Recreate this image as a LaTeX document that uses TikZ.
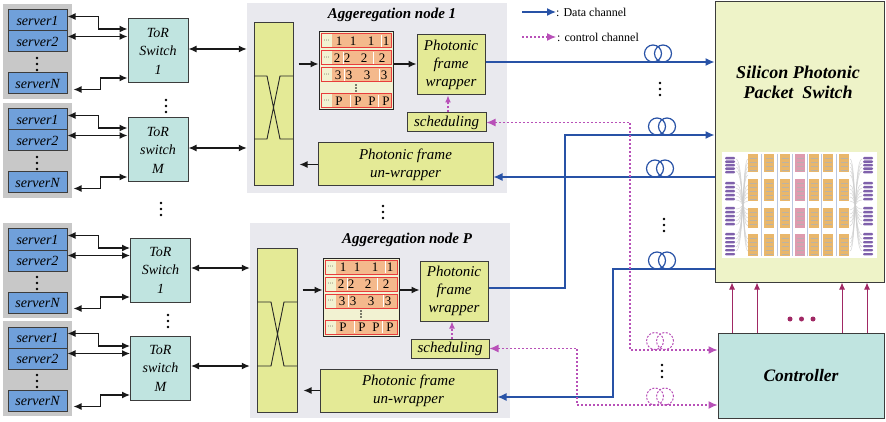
\documentclass[tikz,border=0pt]{standalone}
\usepackage{fontspec}
\setmainfont{Liberation Serif}
\usetikzlibrary{arrows.meta,calc}
\definecolor{srvblue}{RGB}{112,160,218}
\definecolor{grpgray}{RGB}{200,200,200}
\definecolor{torteal}{RGB}{192,228,224}
\definecolor{boxyel}{RGB}{228,234,150}
\definecolor{agggray}{RGB}{233,233,238}
\definecolor{spsfill}{RGB}{238,243,200}
\definecolor{datablue}{RGB}{40,82,166}
\definecolor{ctrlmag}{RGB}{184,80,184}
\definecolor{upmag}{RGB}{160,40,100}
\definecolor{qorange}{RGB}{244,185,140}
\definecolor{qred}{RGB}{232,60,60}
\definecolor{qcream}{RGB}{242,242,210}
\definecolor{edge}{RGB}{60,60,60}
\definecolor{chipor}{RGB}{228,165,70}
\definecolor{chippk}{RGB}{214,130,155}
\definecolor{chippu}{RGB}{96,58,150}
\newcommand\fsz[2]{\fontsize{#1}{#2}\selectfont}
% three small dots stacked vertically
\newcommand\vdts[2]{\fill (#1,#2) circle (1.3pt) (#1,#2+6) circle (1.3pt) (#1,#2+12) circle (1.3pt);}
% fibre coil sitting on a line
\newcommand\coil[3]{\draw[#3] (#1-5,#2) circle (8.5pt) (#1+5,#2) circle (8.5pt);}
% queue rows inside a queue block, relative to its north-west corner
\newcommand\qrows[3]{%
  \begin{scope}[shift={(#1,#2)}]
    \foreach \ya/\yb/\lab/\na/\nb/\nc/\nd/\da/\db in
      {2/16/1/20/34/52/67/62/62, 19/33/2/18/28/45/63/24/54, 36/50/3/19/30/48/65/25/60, 62/76/P/20/39/53/67/31/59}{
      \fill[qcream] (2,\ya) rectangle (13,\yb);
      \fill[qorange] (13,\ya) rectangle (#3-2,\yb);
      \draw[white, line width=1pt] (\da,\ya+1) -- (\da,\yb-1) (\db,\ya+1) -- (\db,\yb-1);
      \draw[qred, line width=1pt] (2,\ya) rectangle (#3-2,\yb);
      \node[font=\fsz{6}{6}] at (7.5,\ya*0.5+\yb*0.5) {···};
      \foreach \xx in {\na,\nb,\nc,\nd}
        \node[font=\fsz{13}{13}, inner sep=0pt] at (\xx,\ya*0.5+\yb*0.5+0.5) {\lab};
    }
    \fill (#3*0.5,53) circle (0.8pt) (#3*0.5,56) circle (0.8pt) (#3*0.5,59) circle (0.8pt);
  \end{scope}}

\begin{document}
\begin{tikzpicture}[x=1pt,y=-1pt,
  box/.style={draw=edge, line width=1pt, inner sep=0pt, align=center},
  srv/.style={box, fill=srvblue, minimum width=59pt, minimum height=21pt, font=\fsz{14}{16}\itshape},
  grp/.style={fill=grpgray, inner sep=0pt, minimum width=69pt, minimum height=95pt},
  tor/.style={box, fill=torteal, minimum width=60pt, minimum height=64pt, font=\fsz{14}{18.5}\itshape},
  ybox/.style={box, fill=boxyel, font=\fsz{15}{18}\itshape},
  aggbg/.style={fill=agggray, inner sep=0pt},
  qbox/.style={draw=black!85, line width=1pt, fill=qcream, inner sep=0pt},
  ttl/.style={font=\fsz{15}{17}\bfseries\itshape},
  arr/.style={black!90, line width=1.3pt, -{Latex[length=8pt,width=7pt]}},
  dar/.style={black!90, line width=1.3pt, {Latex[length=8pt,width=7pt]}-{Latex[length=8pt,width=7pt]}},
  data/.style={datablue, line width=1.3pt, -{Latex[length=9pt,width=8pt]}},
  ctrl/.style={ctrlmag, line width=1.2pt, dash pattern=on 2pt off 2pt, {Latex[length=9pt,width=8pt]}-{Latex[length=9pt,width=8pt]}},
  ctrlone/.style={ctrlmag, line width=1.2pt, dash pattern=on 2pt off 2pt, -{Latex[length=9pt,width=8pt]}},
  ctrlup/.style={ctrlmag, line width=1.1pt, dash pattern=on 2pt off 2pt, -{Latex[length=7pt,width=6pt]}},
  up/.style={upmag, line width=1pt, -{Latex[length=7pt,width=6pt]}}]
\useasboundingbox (0,0) rectangle (886,422);

% ---------- aggregation nodes ----------
\node[aggbg, minimum width=260pt, minimum height=190pt] (a1) at (377,98) {};
\node[aggbg, minimum width=260pt, minimum height=195pt] (aP) at (380,320.5) {};
\node[ttl] (a1t) at (392,15) {Aggeregation node 1};
\node[ttl] (aPt) at (407,240) {Aggeregation node P};

% crossbars
\node[box, fill=boxyel, minimum width=39pt, minimum height=163pt] (cb1) at (273.5,104.5) {};
\node[box, fill=boxyel, minimum width=40pt, minimum height=164pt] (cbP) at (277,330) {};
\draw[black!85, line width=0.9pt] (254,76) -- (267,76) -- (280,139) -- (293,139)
  (293,76) -- (280,76) -- (267,139) -- (254,139);
\draw[black!85, line width=0.9pt] (257,302) -- (271,302) -- (284,366) -- (297,366)
  (297,302) -- (284,302) -- (271,366) -- (257,366);

% queues
\node[qbox, minimum width=74pt, minimum height=78pt] (q1) at (356,71) {};
\qrows{319}{32}{74}
\node[qbox, minimum width=76pt, minimum height=78pt] (qP) at (361,297) {};
\qrows{323}{258}{76}

% wrappers, schedulers, un-wrappers
\node[ybox, minimum width=68pt, minimum height=60pt] (w1) at (451,65) {Photonic\\frame\\wrapper};
\node[ybox, minimum width=68pt, minimum height=60pt] (wP) at (454,291) {Photonic\\frame\\wrapper};
\node[ybox, minimum width=79pt, minimum height=19pt] (sc1) at (446.5,122.5) {scheduling};
\node[ybox, minimum width=78pt, minimum height=19pt] (scP) at (450,348.5) {scheduling};
\node[ybox, minimum width=175pt, minimum height=43pt] (u1) at (405.5,164.5) {Photonic frame\\un-wrapper};
\node[ybox, minimum width=177pt, minimum height=43pt] (uP) at (408.5,390.5) {Photonic frame\\un-wrapper};

% internal connections
\draw[arr] ($(cb1.east |- 0,64)+(5,0)$) -- (q1.west |- 0,64);
\draw[arr] (q1.east |- 0,64) -- (w1.west |- 0,64);
\draw[arr] (u1.west) -- ($(cb1.east |- u1.west)+(6,0)$);
\draw[ctrlup] (sc1.north -| 448,0) -- (w1.south -| 448,0);
\draw[arr] ($(cbP.east |- 0,290)+(5,0)$) -- (qP.west |- 0,290);
\draw[arr] (qP.east |- 0,290) -- (wP.west |- 0,290);
\draw[arr] (uP.west) -- ($(cbP.east |- uP.west)+(6,0)$);
\draw[ctrlup] (scP.north -| 452,0) -- (wP.south -| 452,0);

% ---------- server racks and ToR switches ----------
\foreach \g/\gy/\tx/\lab/\sw/\ag in {1/4/158/1/Switch/a1, 2/103/158/M/switch/a1, 3/223/160.5/1/Switch/aP, 4/321/160.5/M/switch/aP}{
  \node[grp] (grp\g) at (37,\gy+47.5) {};
  \node[srv] (s\g a) at (37.5,\gy+16.5) {server1};
  \node[srv] (s\g b) at (37.5,\gy+37.5) {server2};
  \node[srv] (s\g n) at (37.5,\gy+79.5) {serverN};
  \vdts{37}{\gy+54}
  \node[tor] (t\g) at (\tx,\gy+47) {ToR\\\sw\\\lab};
  \draw[dar] ([yshift=4pt]s\g a.east) -- ++(31,0) |- ([yshift=22pt]t\g.west);
  \coordinate (p\g b) at ([yshift=5pt]s\g b.east);
  \draw[dar] (p\g b) -- (p\g b -| t\g.west);
  \coordinate (p\g n) at ([xshift=6pt,yshift=-6pt]s\g n.east);
  \draw[dar] (p\g n) -- ++(27,0) |- ([yshift=-27pt]t\g.west);
  \coordinate (o\g) at ([yshift=2pt]t\g.east);
  \draw[dar] (o\g) -- (o\g -| \ag.west);
}
\vdts{166}{100}
\vdts{168}{315}
\vdts{161}{203}
\vdts{383}{206}

% ---------- silicon photonic packet switch ----------
\node[box, fill=spsfill, minimum width=169pt, minimum height=280pt] (sps) at (799.5,142) {};
\node[font=\fsz{18}{20}\bfseries\itshape, align=center] (spst) at (798,82) {Silicon Photonic\\Packet\ \ Switch};
% chip layout sketch
\fill[white] (722,152) rectangle (877,258);
\begin{scope}[opacity=0.8]
  % fan-out waveguides between the port arrays and the switch matrix
  \foreach \yy in {159,163,167,171,184,188,192,196,200,209,213,217,221,225,235,239,243,247,251}{
    \draw[gray!40, line width=0.5pt] (736,\yy) .. controls (744,\yy) and (742,410-\yy) .. (748,410-\yy);
    \draw[gray!40, line width=0.5pt] (862,\yy) .. controls (854,\yy) and (856,410-\yy) .. (850,410-\yy);
  }
  \foreach \yy in {157,160.5,164,167.5,171, 182,186,190,194,198, 207,211,215,219,223, 233,237,241,245,249,253}{
    \fill[chippu, rounded corners=1pt] (725,\yy) rectangle (735,\yy+2.4);
    \fill[chippu, rounded corners=1pt] (863,\yy) rectangle (873,\yy+2.4);
  }
  \foreach \cx in {761,777,792,807,821,836}
    \draw[datablue!40, line width=0.8pt] (\cx,154) -- (\cx,256);
  \foreach \cx in {753,769,785,800,814,828,844}{
    \foreach \ya/\yb in {154/172, 179/201, 208/228, 234/256}{
      \ifnum\cx=800
        \fill[chippk] (\cx-5,\ya) rectangle (\cx+5,\yb);
      \else
        \fill[chipor] (\cx-5,\ya) rectangle (\cx+5,\yb);
      \fi
      \foreach \ss in {4,8,...,20}{
        \ifdim\ss pt<\numexpr\yb-\ya\relax pt
          \draw[black!30, line width=0.5pt] (\cx-3.5,\ya+\ss) -- (\cx+3.5,\ya+\ss);
        \fi
      }
    }
  }
\end{scope}

% ---------- controller ----------
\node[box, fill=torteal, minimum width=166pt, minimum height=85pt, font=\fsz{17.5}{20}\bfseries\itshape] (ctl) at (801,375.5) {Controller};
\foreach \ux in {732,757,842,867}
  \draw[up] (ctl.north -| \ux,0) -- (sps.south -| \ux,0);
\fill[upmag] (790,319) circle (2.5pt) (801.5,319) circle (2.5pt) (813,319) circle (2.5pt);

% ---------- data channels ----------
\draw[data] (w1.east |- 0,62) -- (sps.west |- 0,62);
\coil{658}{53.5}{datablue, line width=1.2pt}
\vdts{660}{83}
\coordinate (bd2) at (565,135);
\draw[data] (wP.east |- 0,288) -| (bd2) -- (sps.west |- bd2);
\coil{662}{126.5}{datablue, line width=1.2pt}
\coordinate (in3) at (sps.west |- 0,177);
\draw[data] (in3) -- (u1.east |- in3);
\coil{660}{168.5}{datablue, line width=1.2pt}
\coordinate (in4) at (sps.west |- 0,269);
\coordinate (bd4) at (613,269);
\draw[data] (in4) -- (bd4) |- (uP.east |- 0,397);
\coil{662}{260.5}{datablue, line width=1.2pt}
\vdts{664}{219}

% ---------- control channels ----------
\coordinate (bc1) at (630,350);
\draw[ctrl] (sc1.east) -| (bc1) -- (ctl.west |- bc1);
\coil{660}{341}{ctrlmag, line width=1pt, dash pattern=on 2pt off 1.5pt}
\coordinate (bc2) at (577,405);
\draw[ctrl] (scP.east) -| (bc2) -- (ctl.west |- bc2);
\coil{660}{396.5}{ctrlmag, line width=1pt, dash pattern=on 2pt off 1.5pt}
\vdts{662}{365}

% ---------- legend ----------
\coordinate (lgA) at (522,12);
\coordinate (lgB) at (556,12);
\draw[data] (lgA) -- (lgB);
\node[anchor=west, font=\fsz{12}{14}, inner sep=0pt] (lgt1) at (lgB) {: Data channel};
\coordinate (lgC) at (522,37);
\coordinate (lgD) at (556,37);
\draw[ctrlone] (lgC) -- (lgD);
\node[anchor=west, font=\fsz{12}{14}, inner sep=1pt] (lgt2) at (lgD) {: control channel};
\end{tikzpicture}
\end{document}
